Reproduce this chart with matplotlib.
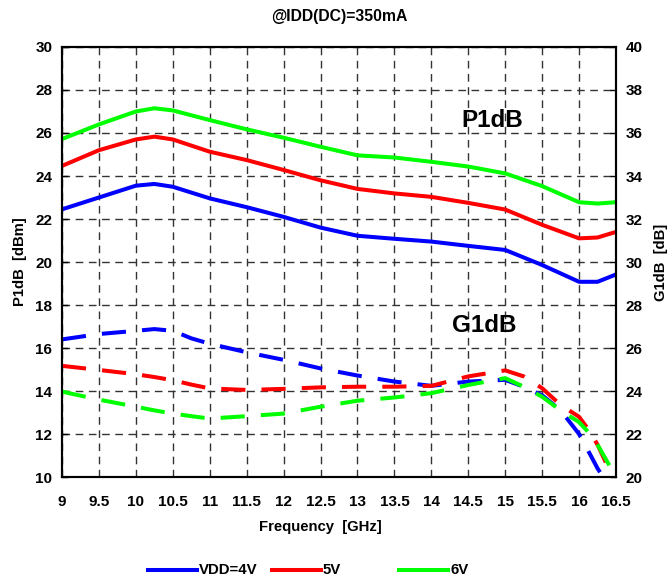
import matplotlib
matplotlib.use("Agg")
import matplotlib.pyplot as plt
from matplotlib.lines import Line2D

plt.rcParams['font.family'] = ['Liberation Sans', 'DejaVu Sans']
plt.rcParams['font.weight'] = 'bold'

# P1dB (left axis, dBm)
freq_p = [9, 9.5, 10, 10.25, 10.5, 11, 11.5, 12, 12.5, 13, 13.5, 14, 14.5, 15, 15.5, 16, 16.25, 16.5]
p1db_4v = [22.45, 23.0, 23.55, 23.63, 23.5, 22.96, 22.55, 22.1, 21.6, 21.22, 21.08, 20.95, 20.75, 20.56, 19.86, 19.08, 19.08, 19.42]
p1db_5v = [24.47, 25.2, 25.7, 25.83, 25.7, 25.13, 24.74, 24.28, 23.8, 23.4, 23.19, 23.03, 22.75, 22.44, 21.73, 21.1, 21.14, 21.4]
p1db_6v = [25.72, 26.4, 27.0, 27.15, 27.05, 26.6, 26.17, 25.78, 25.36, 24.96, 24.86, 24.66, 24.44, 24.12, 23.53, 22.78, 22.72, 22.78]

# G1dB (right axis, dB)
freq_g = [9, 9.5, 10, 10.25, 10.5, 10.75, 11, 11.5, 12, 12.5, 13, 13.5, 14, 14.5, 15, 15.25, 15.5, 15.75, 16, 16.15, 16.25, 16.4, 16.5]
g1db_4v = [26.4, 26.65, 26.8, 26.88, 26.8, 26.45, 26.2, 25.8, 25.45, 25.05, 24.72, 24.44, 24.24, 24.44, 24.52, 24.2, 23.8, 23.1, 22.0, 21.05, 20.4, 19.6, 19.2]
g1db_5v = [25.17, 24.98, 24.78, 24.65, 24.5, 24.3, 24.12, 24.05, 24.1, 24.17, 24.2, 24.2, 24.24, 24.68, 24.96, 24.68, 24.13, 23.35, 22.8, 22.1, 21.5, 20.4, 20.2]
g1db_6v = [23.97, 23.6, 23.27, 23.1, 22.95, 22.83, 22.72, 22.83, 22.95, 23.27, 23.55, 23.7, 23.9, 24.28, 24.6, 24.2, 23.73, 23.1, 22.55, 22.0, 21.5, 20.6, 20.0]

colors = ['#0000ff', '#ff0000', '#00ff00']
labels = ['VDD=4V', '5V', '6V']

fig = plt.figure(figsize=(6.69, 5.78), dpi=100)
ax = fig.add_axes([0.0927, 0.1747, 0.8281, 0.744])
ax2 = ax.twinx()

for y, c in zip([p1db_4v, p1db_5v, p1db_6v], colors):
    ax.plot(freq_p, y, color=c, lw=2.9, solid_capstyle='round')
for y, c in zip([g1db_4v, g1db_5v, g1db_6v], colors):
    ax2.plot(freq_g, y, color=c, lw=2.9, dashes=(6, 4))

ax.set_xlim(9, 16.5)
ax.set_ylim(10, 30)
ax2.set_ylim(20, 40)
ax.set_xticks([9 + 0.5 * i for i in range(16)])
ax.set_xticklabels(['9', '9.5', '10', '10.5', '11', '11.5', '12', '12.5', '13', '13.5',
                    '14', '14.5', '15', '15.5', '16', '16.5'])
ax.set_yticks(range(10, 31, 2))
ax2.set_yticks(range(20, 41, 2))

ax.grid(True, color='#333333', lw=1.0, linestyle=(0, (5.5, 4)))
for a in (ax, ax2):
    a.tick_params(direction='in', length=4, width=1, labelsize=11, pad=7)
    for s in a.spines.values():
        s.set_linewidth(1.5)
ax.tick_params(axis='x', length=0, pad=13)

ax.set_xlabel('Frequency  [GHz]', fontsize=10.7, fontweight='bold')
ax.xaxis.set_label_coords(0.466, -0.1)
ax.set_ylabel('P1dB  [dBm]', fontsize=10.7, fontweight='bold', labelpad=6)
ax2.set_ylabel('G1dB  [dB]', fontsize=10.7, fontweight='bold', labelpad=8)
ax.set_title('@IDD(DC)=350mA', fontsize=11.3, fontweight='bold', pad=19)

ax.text(14.83, 26.6, 'P1dB', fontsize=17.5, fontweight='bold', ha='center', va='center')
ax.text(14.71, 17.07, 'G1dB', fontsize=17.5, fontweight='bold', ha='center', va='center')

# legend drawn by hand to match the spacing of the original
leg_y = 8 / 578
leg_x = [148, 272, 399]
for x0, c, lab in zip(leg_x, colors, labels):
    fig.add_artist(Line2D([x0 / 669, (x0 + 49) / 669], [leg_y, leg_y], color=c, lw=2.9,
                          transform=fig.transFigure))
    fig.text((x0 + 51) / 669, leg_y, lab, fontsize=10.8, fontweight='bold', va='center', ha='left')

fig.savefig('out.png', dpi=100)
